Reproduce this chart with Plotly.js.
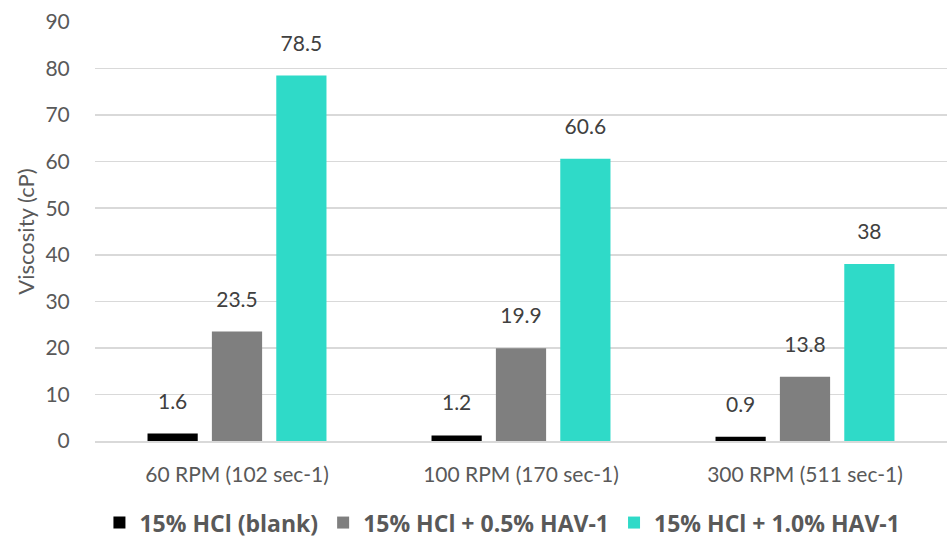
<!DOCTYPE html>
<html><head><meta charset="utf-8">
<script src="https://cdn.plot.ly/plotly-3.0.1.min.js"></script>
<style>html,body{margin:0;padding:0;background:#fff}#chart{width:948px;height:541px}</style>
</head><body><div id="chart"></div>
<script>
const categories = ["60 RPM (102 sec-1)", "100 RPM (170 sec-1)", "300 RPM (511 sec-1)"];
const seriesNames = ["15% HCl (blank)", "15% HCl + 0.5% HAV-1", "15% HCl + 1.0% HAV-1"];
const blank = [1.6, 1.2, 0.9];
const hav05 = [23.5, 19.9, 13.8];
const hav10 = [78.5, 60.6, 38];
const colors = ["#000000", "#7f7f7f", "#2fdac8"];
const font = "Lato, 'Source Sans Pro', 'Open Sans', sans-serif";
const vals = [blank, hav05, hav10];
const bars = vals.map((v, i) => ({
  type: "bar", x: categories, y: v, name: seriesNames[i],
  marker: {color: colors[i]}, offsetgroup: String(i), alignmentgroup: "a",
  hoverinfo: "x+y"
}));
const labels = vals.map((v, i) => ({
  type: "scatter", mode: "markers+text", x: categories, y: v,
  offsetgroup: String(i), alignmentgroup: "a",
  marker: {size: 30, opacity: 0}, showlegend: false,
  text: v.map(String), textposition: "top center", cliponaxis: false,
  textfont: {size: 21, color: "#404040", family: font}, hoverinfo: "skip"
}));
const layout = {
  width: 948, height: 541,
  margin: {l: 95, r: 1, t: 22, b: 100},
  paper_bgcolor: "#fff", plot_bgcolor: "#fff",
  font: {family: font, color: "#595959", size: 21},
  barmode: "group", bargap: 0.32, bargroupgap: 0.22,
  scattermode: "group", scattergap: 0.32,
  xaxis: {showgrid: false, showline: true, linecolor: "#d9d9d9", linewidth: 1.5,
          tickfont: {size: 21, color: "#595959"}, ticks: "outside", ticklen: 14,
          tickcolor: "rgba(0,0,0,0)"},
  yaxis: {range: [0, 90], dtick: 10, showgrid: true, gridcolor: "#d9d9d9", gridwidth: 1.5,
          zeroline: false, showline: false, tickfont: {size: 21, color: "#595959"},
          ticks: "outside", ticklen: 20, tickcolor: "rgba(0,0,0,0)",
          title: {text: "Viscosity (cP)", font: {size: 22, color: "#595959"}, standoff: 4}},
  legend: {orientation: "h", xref: "container", yref: "container",
           x: 0.53, xanchor: "center", y: 0.034, yanchor: "middle",
           font: {size: 23, color: "#595959", family: "'Open Sans', Lato, sans-serif", weight: "bold"},
           itemwidth: 30, tracegroupgap: 0},
  showlegend: true
};
Plotly.newPlot("chart", bars.concat(labels), layout, {displayModeBar: false, staticPlot: true});
</script></body></html>
